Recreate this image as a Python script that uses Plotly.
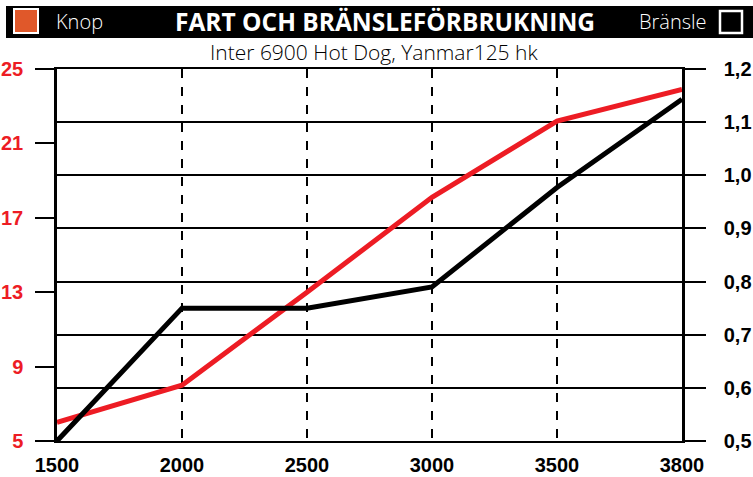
import plotly.graph_objects as go

rpm = ["1500", "2000", "2500", "3000", "3500", "3800"]
knop = [6.0, 8.0, 13.0, 18.1, 22.2, 23.9]
bransle = [0.50, 0.75, 0.75, 0.79, 0.977, 1.143]
left_ticks = [5, 9, 13, 17, 21, 25]
right_ticks = [0.5, 0.6, 0.7, 0.8, 0.9, 1.0, 1.1, 1.2]
right_labels = ["0,5", "0,6", "0,7", "0,8", "0,9", "1,0", "1,1", "1,2"]

W, H = 753, 477
L, R, T, B = 57, 71, 69, 36
pw, ph = W - L - R, H - T - B

def px(x):
    return (x - L) / pw

def py(y):
    return (H - B - y) / ph

RED = "#ed1c24"
ORANGE = "#e0582a"

fig = go.Figure()
fig.add_trace(go.Scatter(x=rpm, y=knop, mode="lines", line=dict(color=RED, width=5),
                         yaxis="y", showlegend=False, hoverinfo="skip"))
fig.add_trace(go.Scatter(x=rpm, y=bransle, mode="lines", line=dict(color="black", width=5),
                         yaxis="y2", showlegend=False, hoverinfo="skip"))

tickfont = dict(family="Liberation Sans, Arial", size=20, color="black", weight="bold")

fig.update_layout(
    width=W, height=H,
    margin=dict(l=L, r=R, t=T, b=B, pad=0, autoexpand=False),
    paper_bgcolor="white", plot_bgcolor="white",
    xaxis=dict(type="category", range=[0, 5], showgrid=True, gridcolor="black",
               griddash="dash", gridwidth=1.5, ticks="", showline=True, mirror=True,
               linecolor="black", linewidth=2, tickfont=tickfont, ticklabelstandoff=5,
               zeroline=False, automargin=False),
    yaxis=dict(range=[5, 25], tickvals=left_ticks, showgrid=False, zeroline=False,
               ticks="outside", ticklen=19, tickwidth=2, tickcolor="black",
               showline=True, linecolor="black", linewidth=2.5, automargin=False,
               tickfont=dict(family="Liberation Sans, Arial", size=20, color=RED, weight="bold"),
               ticklabelstandoff=8),
    yaxis2=dict(range=[0.5, 1.2], tickvals=right_ticks, ticktext=right_labels,
                overlaying="y", side="right", showgrid=True, gridcolor="black",
                gridwidth=2, zeroline=False, ticks="outside", ticklen=21, tickwidth=2,
                tickcolor="black", showline=True, linecolor="black", linewidth=2.5,
                tickfont=tickfont, ticklabelstandoff=14, automargin=False),
)

# banner
fig.add_shape(type="rect", xref="paper", yref="paper",
              x0=px(6), x1=px(753), y0=py(38), y1=py(6),
              fillcolor="black", line=dict(width=0), layer="above")
fig.add_shape(type="rect", xref="paper", yref="paper",
              x0=px(14), x1=px(38), y0=py(33), y1=py(9),
              fillcolor=ORANGE, line=dict(color="white", width=2), layer="above")
fig.add_shape(type="rect", xref="paper", yref="paper",
              x0=px(720), x1=px(742), y0=py(33), y1=py(11),
              fillcolor="black", line=dict(color="white", width=2.5), layer="above")

fig.add_annotation(x=px(54), y=py(22), xref="paper", yref="paper", xanchor="left",
                   yanchor="middle", showarrow=False, text="Knop",
                   font=dict(family="Open Sans", size=20, color="white", weight=300))
fig.add_annotation(x=px(709), y=py(22), xref="paper", yref="paper", xanchor="right",
                   yanchor="middle", showarrow=False, text="Bränsle",
                   font=dict(family="Open Sans", size=20, color="white", weight=300))
fig.add_annotation(x=px(385), y=py(22), xref="paper", yref="paper", xanchor="center",
                   yanchor="middle", showarrow=False, text="FART OCH BRÄNSLEFÖRBRUKNING",
                   font=dict(family="Open Sans", size=24.5, color="white", weight="bold"))
fig.add_annotation(x=px(374), y=py(52), xref="paper", yref="paper", xanchor="center",
                   yanchor="middle", showarrow=False, text="Inter 6900 Hot Dog, Yanmar125 hk",
                   font=dict(family="Open Sans", size=21, color="black", weight=300))

fig.write_html("out.html", config={"displayModeBar": False},
               post_script="document.body.style.margin='0';document.body.style.padding='0';")
